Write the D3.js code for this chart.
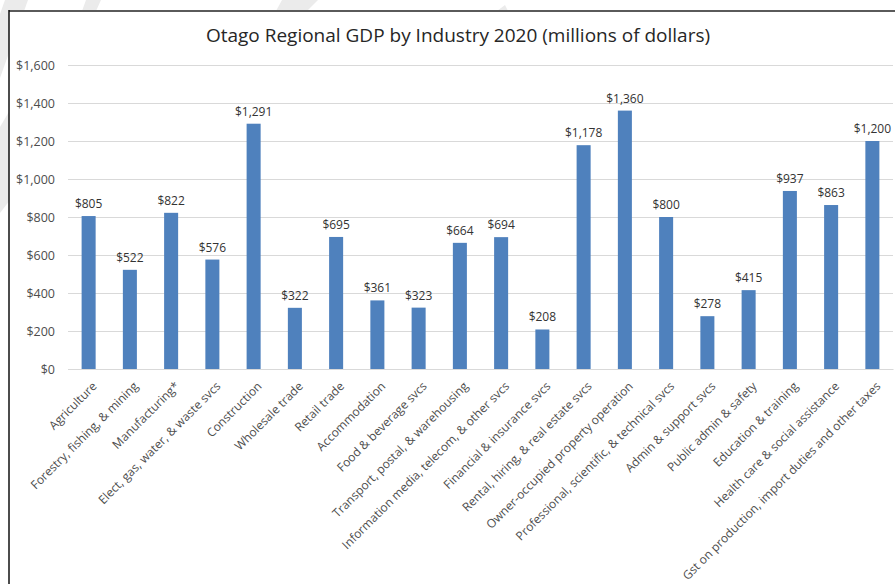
<!DOCTYPE html>
<html>
<head>
<meta charset="utf-8">
<script src="https://cdn.jsdelivr.net/npm/d3@7"></script>
<style>
  html, body { margin: 0; padding: 0; background: #fff; }
  svg { display: block; font-family: "Open Sans", sans-serif; }
</style>
</head>
<body>
<svg id="chart" width="895" height="584"></svg>
<script>
const categories = [
  "Agriculture",
  "Forestry, fishing, & mining",
  "Manufacturing*",
  "Elect, gas, water, & waste svcs",
  "Construction",
  "Wholesale trade",
  "Retail trade",
  "Accommodation",
  "Food & beverage svcs",
  "Transport, postal, & warehousing",
  "Information media, telecom, & other svcs",
  "Financial & insurance svcs",
  "Rental, hiring, & real estate svcs",
  "Owner-occupied property operation",
  "Professional, scientific, & technical svcs",
  "Admin & support svcs",
  "Public admin & safety",
  "Education & training",
  "Health care & social assistance",
  "Gst on production, import duties and other taxes"
];
const values = [805, 522, 822, 576, 1291, 322, 695, 361, 323, 664, 694, 208, 1178, 1360, 800, 278, 415, 937, 863, 1200];
const yTicks = [0, 200, 400, 600, 800, 1000, 1200, 1400, 1600];
const title = "Otago Regional GDP by Industry 2020 (millions of dollars)";

const svg = d3.select("#chart");
const W = 895, H = 584;

// faint background watermark strokes visible outside the frame
const bg = svg.append("g").attr("fill", "#ebebeb");
[
  [[5,0],[28,0],[0,78],[0,14]],
  [[0,127],[10,110],[10,200],[0,213]],
  [[86,0],[101,0],[96,11],[82,11]],
  [[282,0],[318,0],[307,11],[276,11]],
  [[497,11],[505,5],[508,11]]
].forEach(p => bg.append("polygon").attr("points", p.map(d => d.join(",")).join(" ")));

// chart area
svg.append("rect").attr("x", 9).attr("y", 11).attr("width", W).attr("height", H)
  .attr("fill", "#fff");
svg.append("line").attr("x1", 9).attr("x2", W).attr("y1", 11).attr("y2", 11)
  .attr("stroke", "#5a5a5a").attr("stroke-width", 2);
svg.append("line").attr("x1", 9).attr("x2", 9).attr("y1", 10).attr("y2", H)
  .attr("stroke", "#111").attr("stroke-width", 1.5);

const x = d3.scaleBand().domain(categories).range([68, 893]).paddingInner(0.66).paddingOuter(0.33);
const y = d3.scaleLinear().domain([0, 1600]).range([369, 65]);

// title
svg.append("text").attr("x", 458).attr("y", 42).attr("text-anchor", "middle")
  .attr("font-size", 19).attr("fill", "#262626").text(title);

// gridlines + y labels
const yAxis = d3.axisLeft(y).tickValues(yTicks).tickSize(-(893 - 68))
  .tickFormat(d => "$" + d3.format(",")(d)).tickPadding(13);
const gy = svg.append("g").attr("transform", "translate(68,0)").call(yAxis);
gy.select(".domain").remove();
gy.selectAll(".tick line").attr("stroke", "#d9d9d9").attr("stroke-width", 1);
gy.selectAll(".tick text").attr("fill", "#4d4d4d").attr("font-size", 12.5)
  .attr("font-family", "'Open Sans', sans-serif");

// bars
svg.append("g").selectAll("rect").data(values).join("rect")
  .attr("x", (d, i) => x(categories[i]))
  .attr("width", x.bandwidth())
  .attr("y", d => y(d))
  .attr("height", d => y(0) - y(d))
  .attr("fill", "#4f81bd");

// value labels
svg.append("g").selectAll("text").data(values).join("text")
  .attr("x", (d, i) => x(categories[i]) + x.bandwidth() / 2)
  .attr("y", d => y(d) - 8)
  .attr("text-anchor", "middle")
  .attr("font-size", 12).attr("fill", "#333")
  .text(d => "$" + d3.format(",")(d));

// x axis
const xAxis = d3.axisBottom(x).tickSize(0).tickPadding(0);
const gx = svg.append("g").attr("transform", "translate(0,369)").call(xAxis);
gx.select(".domain").attr("stroke", "#d9d9d9");
gx.selectAll(".tick text")
  .attr("font-size", 12).attr("fill", "#4d4d4d")
  .attr("font-family", "'Open Sans', sans-serif")
  .attr("text-anchor", "end")
  .attr("transform", "translate(3,12) rotate(-45)")
  .attr("dy", "0.7em").attr("y", 0).attr("x", 0);
</script>
</body>
</html>
